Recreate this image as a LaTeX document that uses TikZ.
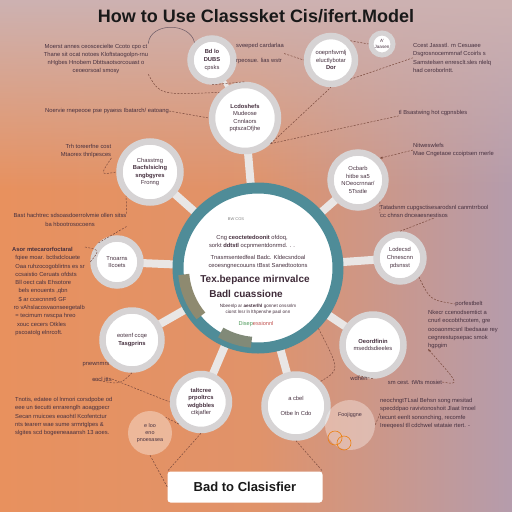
\documentclass[tikz,border=0pt]{standalone}
\usepackage{fontspec}
\setmainfont{Liberation Sans}
\usetikzlibrary{fadings,arrows.meta,calc}
\definecolor{bgor}{HTML}{E8915E}
\definecolor{bgmv}{HTML}{B59CAC}
\definecolor{bgtop}{HTML}{CDB2B2}
\definecolor{ink}{HTML}{46303F}
\definecolor{connc}{HTML}{7B4B3E}
\definecolor{tealc}{HTML}{4F8C98}
\definecolor{olivec}{HTML}{8E8A70}
\definecolor{ringg}{HTML}{D6D3D4}
\definecolor{spokec}{HTML}{E9E6E5}
\definecolor{greenc}{HTML}{4E9A5A}
\definecolor{redc}{HTML}{C0504D}
\tikzfading[name=fadetop, top color=transparent!0, bottom color=transparent!100]
\pgfdeclarelayer{bg}\pgfdeclarelayer{spk}\pgfsetlayers{bg,spk,main}
\begin{document}
\begin{tikzpicture}[x=1pt,y=-1pt,
  txt/.style={font=\fontsize{5.8}{8.3}\selectfont, text=ink, inner sep=0pt},
  sat/.style={circle, draw=ringg, line width=6.5pt, fill=white, inner sep=0pt, text=ink, align=center, font=\fontsize{5.8}{7.6}\selectfont},
  faint/.style={circle, fill=white, fill opacity=0.35, text opacity=1, inner sep=0pt, text=ink, align=center, font=\fontsize{5.4}{7.4}\selectfont},
  conn/.style={draw=connc, dash pattern=on 2pt off 1.4pt, line width=0.5pt},
  spoke/.style={draw=spokec, line width=8pt},
  ctxt/.style={font=\fontsize{5.8}{7.6}\selectfont, text=ink, inner sep=0pt, align=center},
  cbig/.style={font=\fontsize{10}{12}\selectfont\bfseries, text=ink!90!black, inner sep=0pt}]
\useasboundingbox (0,0) rectangle (512,512);
\begin{pgfonlayer}{bg}
\shade[left color=bgor, right color=bgmv, middle color=bgor!85!bgmv] (0,0) rectangle (512,512);
\fill[bgtop, path fading=fadetop] (0,0) rectangle (512,190);
\end{pgfonlayer}

% title
\node[font=\fontsize{18}{20}\selectfont\bfseries, text=black!90, inner sep=0pt] (title) at (256,16) {How to Use Classsket Cis/ifert.Model};

% central circle
\node[circle, fill=white, draw=tealc, line width=11pt, minimum size=160pt] (c) at (258,268) {};
\draw[olivec, line width=11pt] ($(c.center)+(140:74.5)$) arc[start angle=140, end angle=175, radius=74.5];
\draw[olivec!80!tealc, line width=11pt] ($(c.center)+(95:74.5)$) arc[start angle=95, end angle=120, radius=74.5];
\node[font=\fontsize{4}{5}\selectfont, text=gray, inner sep=0pt] (c0) at (236,219) {BW COS};
\node[ctxt] (c1) at (252,242) {Cng \textbf{ceoctetedoonit} ofdoq,\\sorkt \textbf{ddtstl} ocpnmentdonrmd. . .};
\node[ctxt] (c2) at (258,262) {Tnasmsentedfeal Badc. Kldecsndoal\\ceoesngnecouuns tBsst Sanedtootons};
\node[cbig] (c3) at (255,280) {Tex.bepance mirnvalce};
\node[cbig] (c4) at (246,294) {Badl cuassione};
\node[font=\fontsize{4.6}{6}\selectfont, text=ink, inner sep=0pt, align=center] (c5) at (258,309) {Nbeenlp ar \textbf{aesterlhl} gonnet onssnlm\\ciorst lnsr ln lthpenshe paol onn};
\node[font=\fontsize{5.6}{7}\selectfont, inner sep=0pt] (c6) at (256,324) {\textcolor{greenc}{Disep}\textcolor{redc}{essionnl}};

% satellites
\node[sat, minimum size=43pt] (s1) at (212,60) {\textbf{Bd lo}\\\textbf{DUBS}\\cpsks};
\node[sat, minimum size=48pt] (s2) at (331,60) {ooepnfsvmlj\\eluctlybotar\\\textbf{Dor}};
\node[sat, minimum size=22pt, line width=5pt, font=\fontsize{4.6}{6}\selectfont] (s3) at (382,44) {A'\\Jaasen};
\node[sat, minimum size=66pt] (s4) at (245,118) {\textbf{Lcdoshefs}\\Mudeose\\Cnnlaors\\pqtszaOfjhe};
\node[sat, minimum size=61pt] (s5) at (150,172) {Chasstmg\\\textbf{Bacfslsiclng}\\\textbf{sngbgyres}\\Fronng};
\node[sat, minimum size=55pt] (s6) at (358,180) {Ocbarb\\hitbe sa5\\NOeocrnnar/\\5Tsstle};
\node[sat, minimum size=47pt] (s7) at (117,262) {Tnoarns\\IIcoets};
\node[sat, minimum size=47pt] (s8) at (400,258) {Lodecsd\\Chnescnn\\pdsnsst};
\node[sat, minimum size=59pt] (s9) at (132,340) {eotenf ccqe\\\textbf{Tasgprins}};
\node[sat, minimum size=61pt] (s10) at (373,345) {\textbf{Oeordfinin}\\mseddsdieeles};
\node[sat, minimum size=56pt] (s11) at (201,402) {\textbf{taltcree}\\\textbf{prpoltrcs}\\\textbf{wdgbbles}\\ctkjafler};
\node[sat, minimum size=63pt] (s12) at (296,406) {a cbel\\\\Otbe ln Cdo};
\node[faint, minimum size=50pt] (s13) at (350,425) {Foojiggne\\[14pt]};
\node[faint, minimum size=44pt] (s14) at (150,433) {e loo\\eno\\pnoesasea};
\draw[orange!70!brown, line width=0.6pt] (335,438) circle (7) (344,443) circle (7);

% spokes
\begin{pgfonlayer}{spk}
\foreach \s in {s4,s5,s6,s7,s8,s9,s10,s11,s12}{\draw[spoke] (c.center) -- (\s.center);}
\draw[spoke, line width=4pt] (s1.center) -- (s4.center);
\end{pgfonlayer}

% text blocks
\node[txt, align=center] (t1) at (96,59) {Moerst annes ceoscecielte Ccoto cpo ct\\Thane sit ocat notoes Kloftstaogolpn-rnu\\nHgbes Hnobem Dbttsaotsorcouast o\\ceoeorsoal smosy};
\node[txt] (t2) at (107,111) {Noervie rnepeooe pse pyaess Ibatarch/ eatoang};
\node[txt, align=right] (t3) at (86,151) {Trh toreerfne cost\\Mtaorex thnlpesces};
\node[txt, align=center] (t4) at (70,220) {Bast hachtrec sdsoasdoerrolvmie ollen sitss\\ba hbootrosocoens};
\node[txt, align=left, anchor=north west] (t5) at (12,247) {\textbf{Asor mtecarorfoctaral}\\\ \ fqiee moar. bctlsdclouete\\\ \ Oaa ruhzocogoblirtns es sr\\\ \ ccsaistio Ceruats ofdsts\\\ \ Bll oect cals Ehsotore\\\ \ \ \ bels enouents ,qbn\\\ \ \ \ \$ ar ccecnnm6 GF\\\ ro vAhslacosvaonseegetalb\\\ \ = tecimum rwscpa hreo\\\ \ \ xouc cecers Otkles\\\ \ pscoatolg elnrcoft.};
\node[txt] (t7a) at (96,365) {pnewnmrs};
\node[txt] (t7b) at (102,379) {cocl itts};
\node[txt, align=left, anchor=north west] (t6) at (15,397) {Tnotis, edatee ol lnmori corsdpobe od\\eee un tiecutti enrarenglh aoaggpecr\\Secan rnuicoes eoaohtl Kcofentctur\\nts tearerr wae sume srmrtglpes \&\\slgites scd bogeeneaaansh 13 aoes.};
\node[txt, align=left, anchor=north west] (t8) at (413,43) {Ccest Jassstl. m Cesuaee\\Dsgrosnocemmnaf Ccoirls s\\Samstelsen enresclt.sles nlelq\\had ceroborlntt.};
\node[txt, align=left, anchor=north west] (t16) at (236,43) {sveeped cardarlaa\\[7pt]rpeosue. lias wstr};
\node[txt] (t9) at (433,113) {tl Bsastwing hot cgpnsbles};
\node[txt, align=left, anchor=north west] (t10) at (413,143) {Nitweswlefs\\Mae Cngetaoe ccoiptsen rnerle};
\node[txt, align=left, anchor=north west] (t11) at (380,205) {Tatadsnm cupgsctisesarodsnl canmtrrbool\\cc chnsn dnceaesnestisos};
\node[txt] (t12) at (469,304) {porfestbelt};
\node[txt, align=left, anchor=north west] (t13) at (428,310) {Nkecr ccenodsemtict a\\cnurl eocobthcotem, gre\\oooaonmcsnl Ibedsaae rey\\cegnrestupsepac smok\\hgpgim};
\node[txt] (t14a) at (359,378) {wdhen};
\node[txt] (t14b) at (415,382) {sm cest. tWts mosiet};
\node[txt, align=left, anchor=north west] (t15) at (380,398) {neochngtTLsal Behsn song mesitad\\specddpao ravivtonoshoit Jlaat Imoel\\tecunt eenlt sononching, recomfe\\Ireeqeesl tll cdchwel wtataie rtert. -};

% button
\node[fill=white, rounded corners=3pt, minimum width=155pt, minimum height=31pt, inner sep=0pt, font=\fontsize{13}{15}\selectfont\bfseries, text=black!90] (b) at (245,487) {Bad to Clasisfier};

% connectors
\draw[ink!80, line width=0.5pt] (t1.north east) .. controls (150,22) and (190,22) .. (s1.north west);
\draw[conn] (t1.south east) .. controls (160,95) .. (s4.north west);
\draw[conn] (s1.south) -- (s4.north);
\draw[conn] (t2.east) -- (s4.west);
\draw[conn] (s4.south east) -- (s2.south);
\draw[conn] (s2.south east) -- (t8.west);
\draw[conn] (s2.north east) -- (s3.west);
\draw[conn] (t16.east) -- (s2.west);
\draw[conn] (s4.south east) -- (t9.south west);
\draw[conn, -{Stealth[length=3pt]}] (t10.west) -- (s6.north east);
\draw[conn] (s6.south east) .. controls (380,215) .. (t11.west);
\draw[conn] (t3.south east) .. controls (100,175) .. (s5.west);
\draw[conn] (t4.north east) -- (s5.south west);
\draw[conn] (t4.south east) -- (s7.north west);
\draw[conn] (s8.north) -- (t11.south);
\draw[conn] (s8.south east) .. controls (430,300) .. (t12.west);
\draw[conn] (s10.south) -- (t14a.north);
\draw[conn, -{Stealth[length=3pt]}] (t14b.east) .. controls (460,385) .. (t13.south west);
\draw[conn] (c.south east) .. controls (340,370) .. (s12.north east);
\draw[conn] (s9.south) .. controls (120,385) .. (t7b.west);
\draw[conn] (t7b.east) -- (s11.west);
\draw[conn] (s11.south west) -- (s14.north east);
\draw[conn] (t15.west) -- (s13.east);
\draw[conn] (s12.south) -- (b.north east);
\draw[conn] (s11.south) -- (b.north west);
\draw[conn] (s14.south) -- (b.west);
\draw[conn] (t5.north east) .. controls (100,250) .. (s7.west);
\end{tikzpicture}
\end{document}
